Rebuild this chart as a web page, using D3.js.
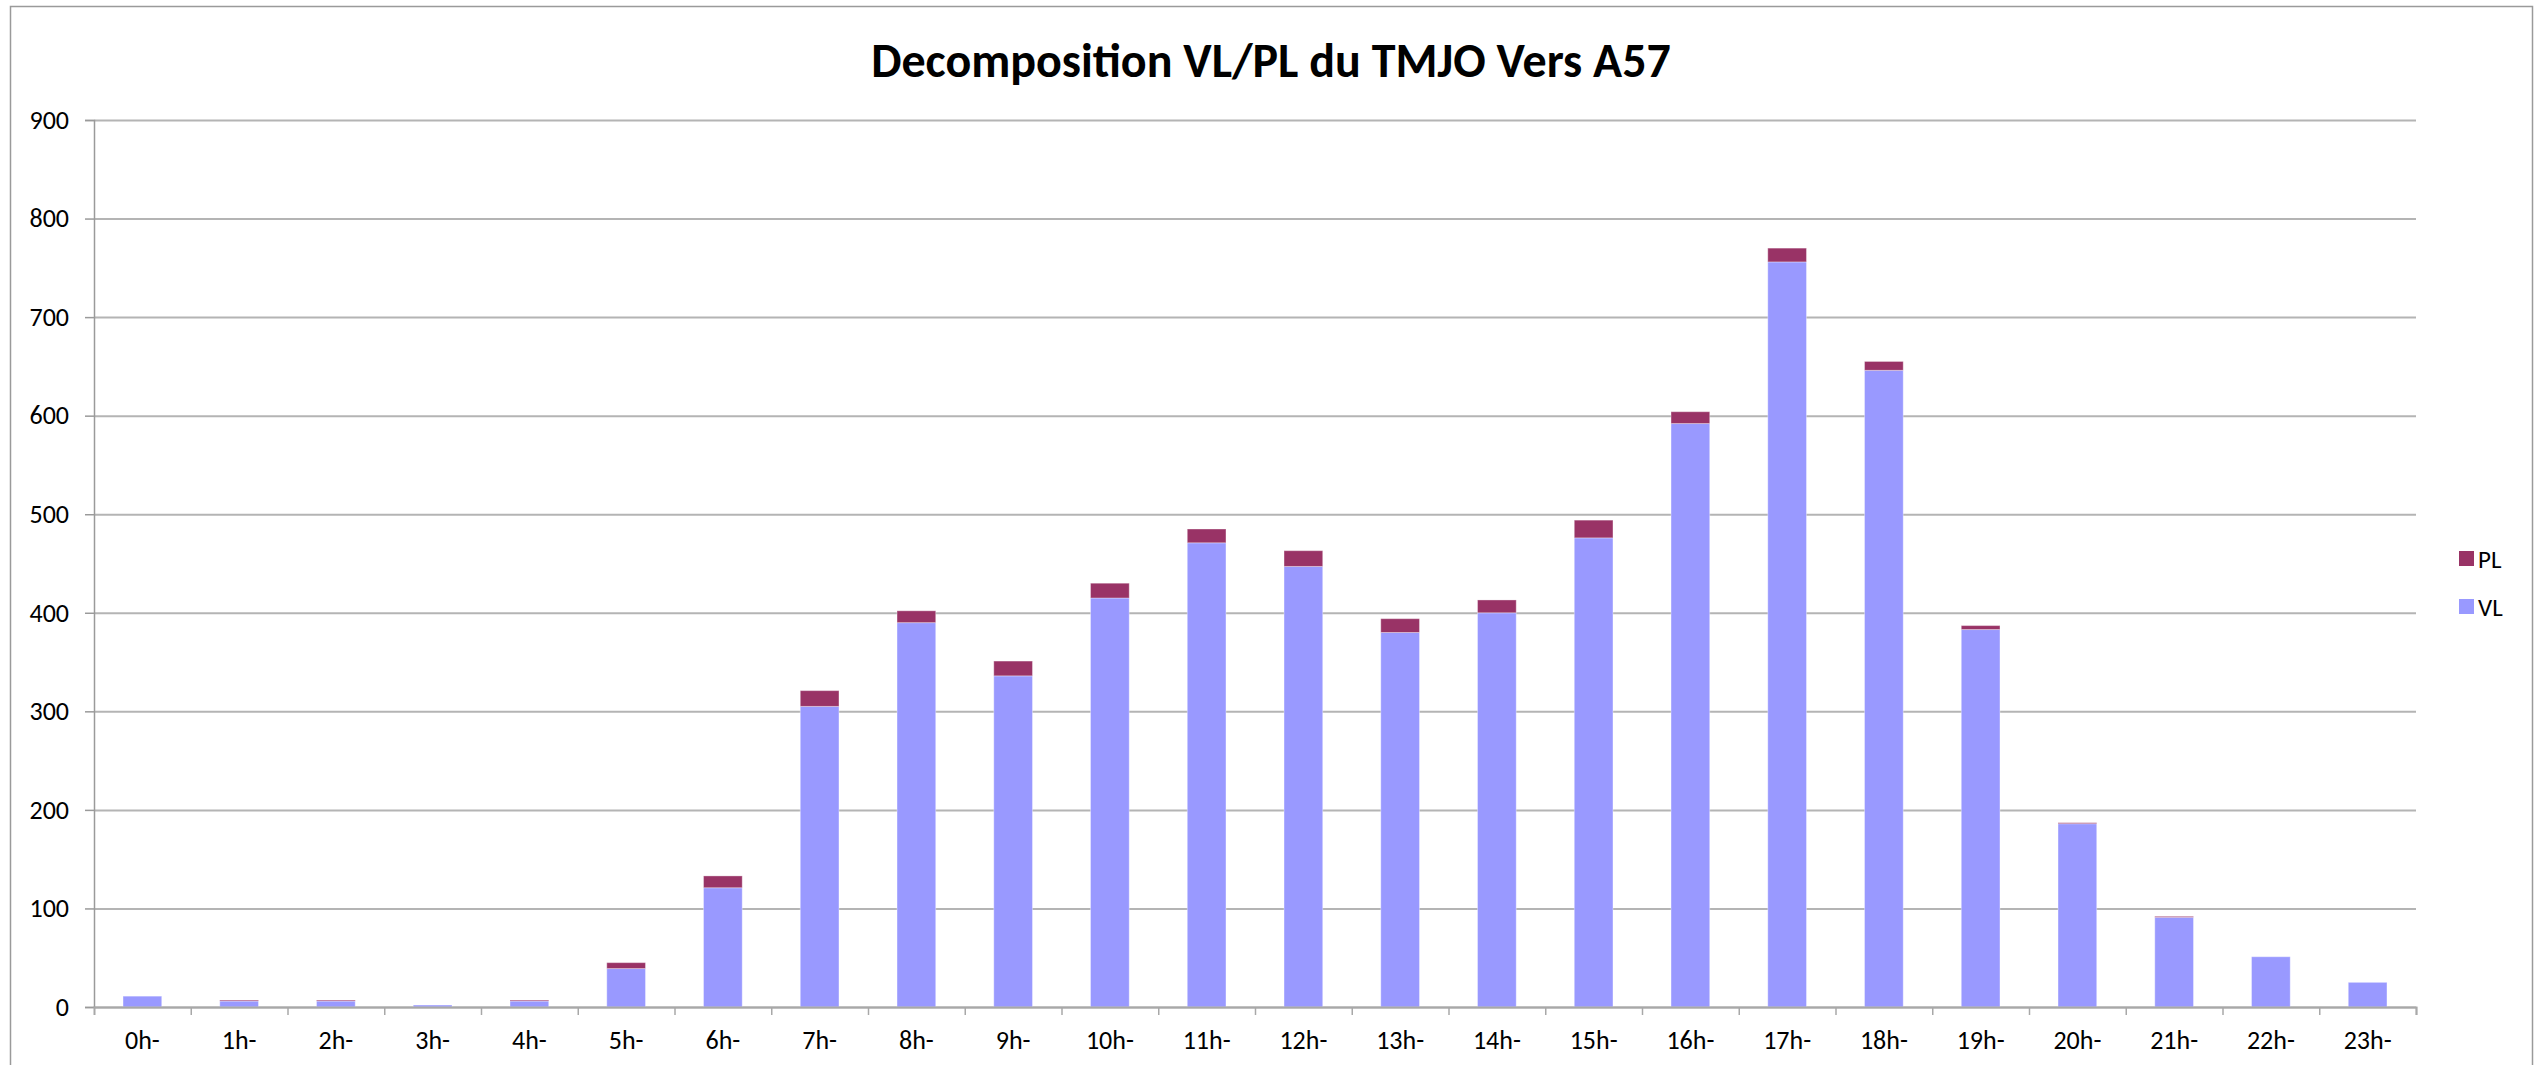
<!DOCTYPE html>
<html>
<head>
<meta charset="utf-8">
<script src="https://cdn.jsdelivr.net/npm/d3@7"></script>
<style>
  html, body { margin: 0; padding: 0; background: #fff; }
  svg { display: block; font-family: Carlito, Lato, "Open Sans", sans-serif; }
</style>
</head>
<body>
<section></section>
<script>
"use strict";

// chart data
const hours = ["0h-", "1h-", "2h-", "3h-", "4h-", "5h-", "6h-", "7h-", "8h-", "9h-", "10h-", "11h-",
  "12h-", "13h-", "14h-", "15h-", "16h-", "17h-", "18h-", "19h-", "20h-", "21h-", "22h-", "23h-"];
const vlValues = [11, 6, 6, 2, 6, 39, 121, 305, 390, 336, 415, 471, 447, 380, 400, 476, 592, 756, 646, 383, 186, 91, 51, 25];
const plValues = [0, 1, 1, 0, 1, 6, 12, 16, 12, 15, 15, 14, 16, 14, 13, 18, 12, 14, 9, 4, 1, 1, 0, 0];
const yTicks = [0, 100, 200, 300, 400, 500, 600, 700, 800, 900];
const seriesKeys = ["VL", "PL"];
const title = "Decomposition VL/PL du TMJO Vers A57";

const w = 2535;
const h = 1065;
const plotLeft = 94;
const plotRight = 2416;
const plotTop = 120;
const plotBottom = 1007;
const fontFamily = "Carlito, Lato, 'Open Sans', sans-serif";

const colors = { VL: "#9999ff", PL: "#993366" };

const svg = d3.select("section").append("svg").attr("width", w).attr("height", h);

// outer frame
svg.append("rect")
  .attr("x", 10.5).attr("y", 6.5)
  .attr("width", 2522).attr("height", 1080)
  .attr("fill", "none").attr("stroke", "#9a9a9a").attr("stroke-width", 1.5);

const table = hours.map((hr, i) => ({ hour: hr, VL: vlValues[i], PL: plValues[i] }));

const xScale = d3.scaleBand()
  .domain(hours)
  .range([plotLeft, plotRight])
  .paddingInner(0.6)
  .paddingOuter(0.3);

// index scale, used for the tick marks between categories
const xEdges = d3.scaleLinear().domain([0, hours.length]).range([plotLeft, plotRight]);

const yScale = d3.scaleLinear().domain([0, 900]).range([plotBottom, plotTop]);

//gridlines
svg.append("g")
  .attr("transform", `translate(${plotLeft}, 0)`)
  .call(d3.axisLeft(yScale).tickValues(yTicks).tickSize(-(plotRight - plotLeft)).tickFormat(""))
  .call((g) => g.select(".domain").remove())
  .call((g) => g.selectAll("line").attr("stroke", "#b4b4b4").attr("stroke-width", 2));

//y axis
svg.append("g")
  .attr("transform", `translate(${plotLeft}, 0)`)
  .call(d3.axisLeft(yScale).tickValues(yTicks).tickSize(9).tickPadding(16))
  .attr("font-family", fontFamily)
  .attr("font-size", 26)
  .call((g) => g.select(".domain").attr("stroke", "#9a9a9a").attr("stroke-width", 1.5))
  .call((g) => g.selectAll("line").attr("stroke", "#9a9a9a").attr("stroke-width", 1.5))
  .call((g) => g.selectAll("text").attr("fill", "#000"));

//bars
const stacked = d3.stack().keys(seriesKeys)(table);

svg.append("g")
  .selectAll("g")
  .data(stacked)
  .enter()
  .append("g")
  .attr("fill", (s) => colors[s.key])
  .selectAll("rect")
  .data((s) => s)
  .enter()
  .append("rect")
  .attr("x", (d) => xScale(d.data.hour))
  .attr("y", (d) => yScale(d[1]))
  .attr("width", xScale.bandwidth())
  .attr("height", (d) => yScale(d[0]) - yScale(d[1]))
  .attr("stroke", "#ffffff")
  .attr("stroke-opacity", 0.35)
  .attr("stroke-width", 1);

//x axis: ticks between categories
svg.append("g")
  .attr("transform", `translate(0, ${plotBottom})`)
  .call(d3.axisBottom(xEdges).tickValues(d3.range(1, hours.length + 1)).tickSize(8).tickFormat(""))
  .call((g) => g.select(".domain").attr("stroke", "#a8a8a8").attr("stroke-width", 2))
  .call((g) => g.selectAll("line").attr("stroke", "#a8a8a8").attr("stroke-width", 1.5));

//x labels
svg.append("g")
  .attr("transform", `translate(0, ${plotBottom})`)
  .call(d3.axisBottom(xScale).tickSize(0).tickPadding(24))
  .attr("font-family", fontFamily)
  .attr("font-size", 26)
  .call((g) => g.select(".domain").remove())
  .call((g) => g.selectAll("text").attr("fill", "#000"));

//title
svg.append("text")
  .attr("x", 1271)
  .attr("y", 77)
  .attr("text-anchor", "middle")
  .attr("font-size", 48)
  .attr("font-weight", "bold")
  .text(title);

//legend
const legend = svg.append("g").attr("transform", "translate(2459, 551)");
const legendItems = ["PL", "VL"];
legendItems.forEach((key, i) => {
  const item = legend.append("g").attr("transform", `translate(0, ${i * 48})`);
  item.append("rect").attr("width", 15).attr("height", 15).attr("fill", colors[key]);
  item.append("text")
    .attr("x", 19)
    .attr("y", 8)
    .attr("dy", "0.35em")
    .attr("font-size", 25)
    .text(key);
});
</script>
</body>
</html>
